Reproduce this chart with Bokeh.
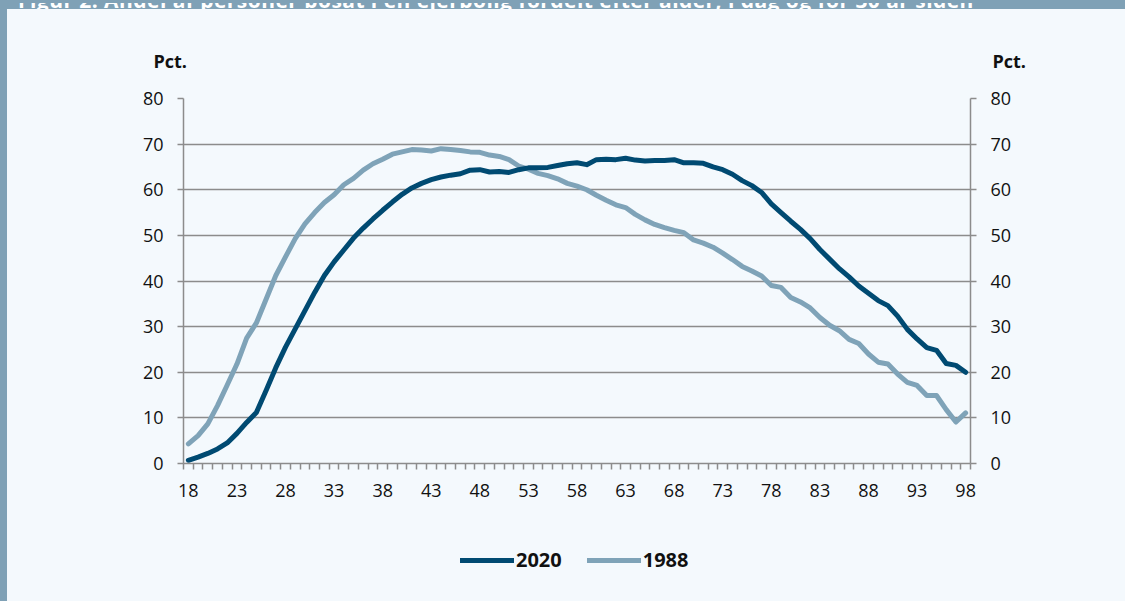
from bokeh.plotting import figure
from bokeh.models import (Range1d, LinearAxis, FixedTicker, Label, Legend, LegendItem,
                          ColumnDataSource, Div)
from bokeh.layouts import column, row
from bokeh.embed import file_html
from bokeh.resources import INLINE

ages = list(range(18, 99))
share_2020 = [0.7, 1.4, 2.2, 3.2, 4.5, 6.6, 9.0, 11.2, 16.0, 21.0,
              25.5, 29.5, 33.5, 37.5, 41.2, 44.2, 46.8, 49.4, 51.6, 53.6,
              55.5, 57.3, 59.0, 60.4, 61.4, 62.2, 62.8, 63.2, 63.5, 64.3,
              64.4, 63.9, 64.0, 63.8, 64.4, 64.8, 64.8, 64.9, 65.3, 65.7,
              65.9, 65.5, 66.6, 66.7, 66.6, 66.9, 66.5, 66.3, 66.4, 66.4,
              66.6, 65.9, 65.9, 65.8, 65.0, 64.4, 63.4, 62.0, 60.9, 59.4,
              56.9, 55.0, 53.1, 51.3, 49.3, 46.9, 44.8, 42.7, 40.9, 38.9,
              37.3, 35.7, 34.6, 32.3, 29.4, 27.3, 25.4, 24.8, 21.9, 21.5,
              20.0]
share_1988 = [4.3, 6.1, 8.7, 12.7, 17.2, 21.8, 27.5, 30.8, 36.0, 41.2,
              45.3, 49.3, 52.5, 55.0, 57.2, 58.9, 61.1, 62.5, 64.3, 65.7,
              66.7, 67.8, 68.3, 68.8, 68.7, 68.5, 69.0, 68.8, 68.6, 68.3,
              68.2, 67.6, 67.3, 66.6, 65.2, 64.5, 63.6, 63.1, 62.4, 61.4,
              60.8, 60.0, 58.8, 57.7, 56.7, 56.1, 54.6, 53.4, 52.4, 51.7,
              51.1, 50.6, 49.0, 48.3, 47.4, 46.1, 44.7, 43.2, 42.2, 41.1,
              39.0, 38.6, 36.4, 35.4, 34.1, 32.0, 30.3, 29.1, 27.2, 26.3,
              24.0, 22.2, 21.8, 19.6, 17.8, 17.1, 14.9, 14.9, 11.8, 9.1,
              11.1]
series_names = ["2020", "1988"]
x_tick_labels = ages[::5]
y_ticks = [0, 10, 20, 30, 40, 50, 60, 70, 80]
unit_label = "Pct."
title_text = "Figur 2. Andel af personer bosat i en ejerbolig fordelt efter alder, i dag og for 30 år siden"

BG = "#F4F9FD"
BANNER = "#7FA1B6"
GRID = "#8C8C8C"
C2020 = "#004A72"
C1988 = "#7FA3B8"
FONT = "Open Sans"
W = 1118
BGSTYLE = {"background-color": BG}

# ---- top strip with "Pct." labels
top = figure(width=W, height=69, output_backend="svg", toolbar_location=None,
             x_range=Range1d(0, 1), y_range=Range1d(0, 1),
             min_border=0, min_border_left=0, min_border_right=0,
             min_border_top=0, min_border_bottom=0, frame_align=False,
             background_fill_color=BG, border_fill_color=BG, styles=BGSTYLE,
             outline_line_color=None, x_axis_location=None, y_axis_location=None)
top.grid.visible = False
for xs in (146, 985):
    top.add_layout(Label(x=xs, y=18, x_units="screen", y_units="screen", text=unit_label,
                         text_font=FONT, text_font_style="bold", text_font_size="18px",
                         text_color="#111111", text_baseline="alphabetic"))

# ---- main chart
p = figure(width=W, height=435, output_backend="svg", toolbar_location=None,
           x_range=Range1d(ages[0] - 0.5, ages[-1] + 0.5),
           y_range=Range1d(0, 80), frame_align=False,
           min_border_left=176, min_border_right=155,
           min_border_top=20, min_border_bottom=50,
           background_fill_color=BG, border_fill_color=BG, styles=BGSTYLE,
           outline_line_color=None, y_axis_location=None, x_axis_location=None)

p.xgrid.visible = False
p.ygrid.ticker = FixedTicker(ticks=y_ticks)
p.ygrid.grid_line_color = GRID
p.ygrid.grid_line_width = 1.5

xax = LinearAxis(ticker=FixedTicker(ticks=x_tick_labels,
                                    minor_ticks=[a - 0.5 for a in ages] + [ages[-1] + 0.5]))
xax.axis_line_color = GRID
xax.axis_line_width = 1.5
xax.major_tick_in = 0
xax.major_tick_out = 0
xax.minor_tick_in = 0
xax.minor_tick_out = 6
xax.minor_tick_line_color = GRID
xax.minor_tick_line_width = 1.5
xax.major_label_standoff = 14
xax.major_label_text_font = FONT
xax.major_label_text_font_size = "18px"
xax.major_label_text_color = "#111111"
p.add_layout(xax, "below")

for side in ("left", "right"):
    ax = LinearAxis(ticker=FixedTicker(ticks=y_ticks))
    ax.axis_line_color = GRID
    ax.axis_line_width = 1.5
    ax.major_tick_in = 0
    ax.major_tick_out = 6
    ax.major_tick_line_color = GRID
    ax.major_tick_line_width = 1.5
    ax.minor_tick_line_color = None
    ax.major_label_standoff = 14
    ax.major_label_text_font = FONT
    ax.major_label_text_font_size = "18px"
    ax.major_label_text_color = "#111111"
    p.add_layout(ax, side)

src = ColumnDataSource(dict(age=ages, s2020=share_2020, s1988=share_1988))
p.line("age", "s1988", source=src, line_color=C1988, line_width=5,
       line_cap="round", line_join="round")
p.line("age", "s2020", source=src, line_color=C2020, line_width=5,
       line_cap="round", line_join="round")

# ---- legend strip (keys only; no data drawn here)
leg = figure(width=W, height=88, output_backend="svg", toolbar_location=None,
             x_range=Range1d(0, 1), y_range=Range1d(0, 1),
             min_border=0, min_border_left=0, min_border_right=0,
             min_border_top=0, min_border_bottom=0, frame_align=False,
             background_fill_color=BG, border_fill_color=BG, styles=BGSTYLE,
             outline_line_color=None, x_axis_location=None, y_axis_location=None)
leg.grid.visible = False
nan = float("nan")
k2020 = leg.line(x=[nan], y=[nan], line_color=C2020, line_width=5, line_cap="round")
k1988 = leg.line(x=[nan], y=[nan], line_color=C1988, line_width=5, line_cap="round")
legend = Legend(items=[LegendItem(label=series_names[0], renderers=[k2020]),
                       LegendItem(label=series_names[1], renderers=[k1988])],
                orientation="horizontal", location=(453, 28),
                background_fill_alpha=0, border_line_color=None,
                glyph_width=54, glyph_height=20, label_standoff=2, spacing=25,
                padding=0, margin=0,
                label_text_font=FONT, label_text_font_style="bold",
                label_text_font_size="20px", label_text_color="#111111")
leg.add_layout(legend, "center")

banner = Div(text=('<div style="width:1125px;height:9px;overflow:hidden;">'
                   '<div style="position:relative;top:-13px;left:18px;white-space:nowrap;'
                   'font-family:\'Open Sans\';font-weight:bold;font-size:21px;line-height:21px;'
                   'letter-spacing:0.45px;color:#ffffff;">' + title_text + '</div></div>'),
             width=1125, height=9, margin=0,
             styles={"background-color": BANNER, "overflow": "hidden"})
strip = Div(text="", width=7, height=592, margin=0, styles={"background-color": BANNER})

inner = column(top, p, leg, spacing=0, styles=BGSTYLE)
body = row(strip, inner, spacing=0, styles=BGSTYLE)
layout = column(banner, body, spacing=0, styles=BGSTYLE)

open("out.html", "w").write(file_html(layout, INLINE))
